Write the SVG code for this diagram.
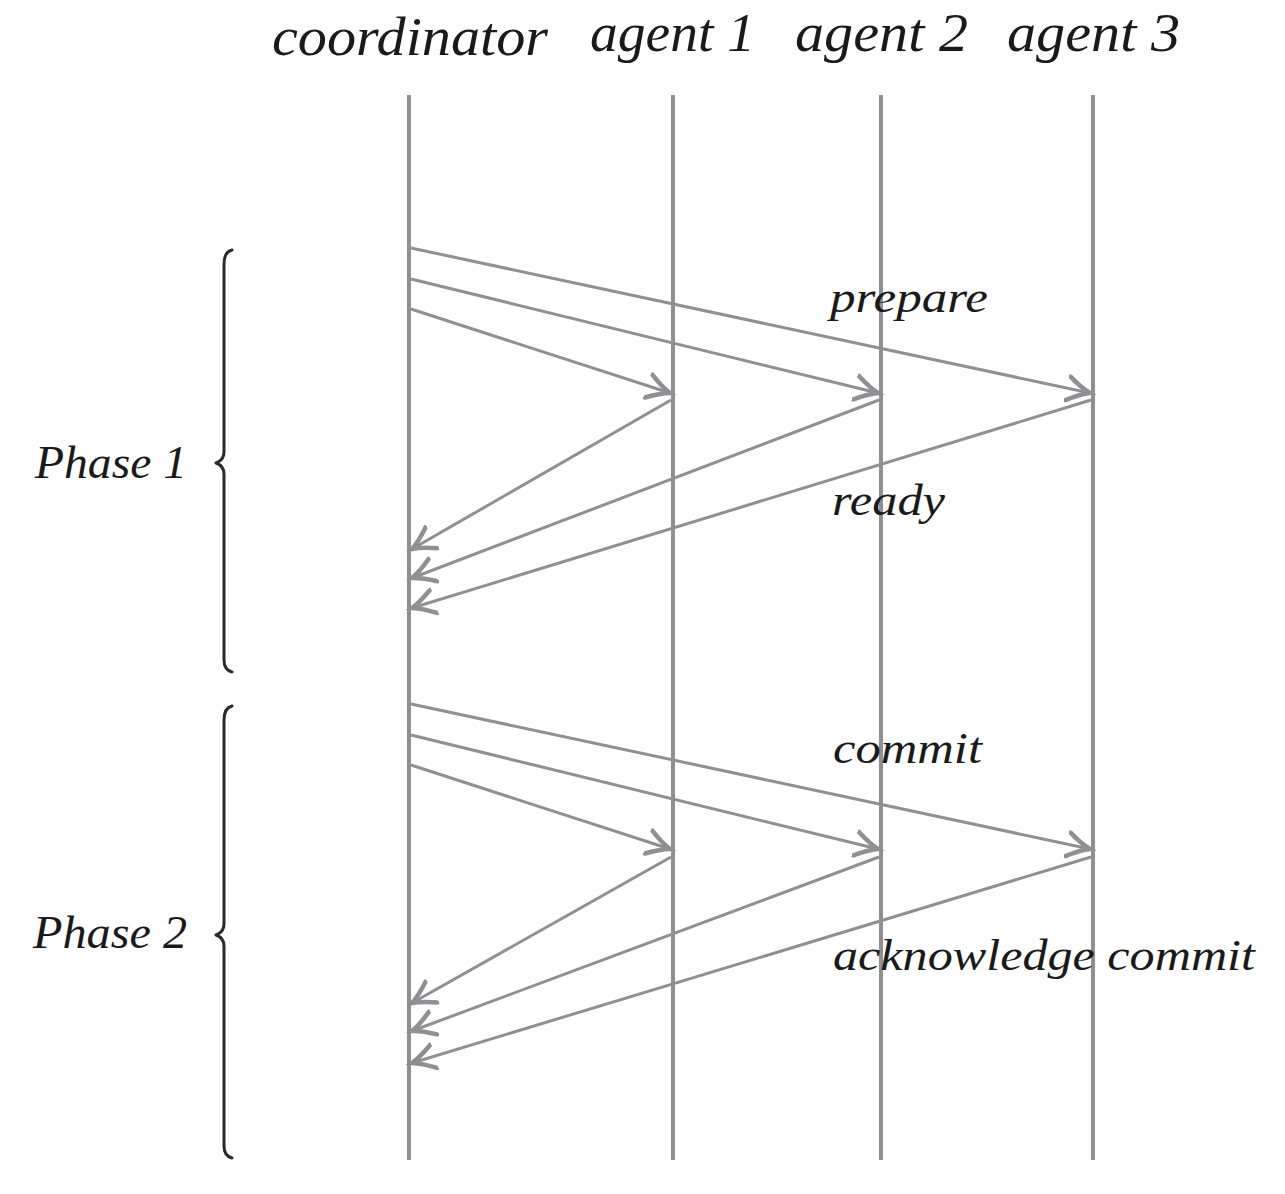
<svg xmlns="http://www.w3.org/2000/svg" width="1285" height="1194" viewBox="0 0 1285 1194">
<style>
.life{stroke:#909094;stroke-width:4;fill:none}
.msg{stroke:#909094;stroke-width:3;fill:none;marker-end:url(#arr)}
.brace{stroke:#2a2a2a;stroke-width:3;fill:none;stroke-linecap:round;stroke-linejoin:round}
text{font-family:"Liberation Serif",serif;font-style:italic;fill:#1a1a1a}
.hd{font-size:54px}
.ph{font-size:47px}
.lb{font-size:45px}
</style>
<defs>
<marker id="arr" markerUnits="userSpaceOnUse" markerWidth="30" markerHeight="30" viewBox="-16 -10 20 20" refX="0" refY="0" orient="auto">
<path d="M -15 -8 Q -6 -2 0 0 Q -6 2 -15 8" stroke="#909094" stroke-width="3" fill="none" stroke-linecap="round"/>
</marker>
</defs>
<rect width="1285" height="1194" fill="#ffffff"/>
<g id="coordinator"><line class="life" x1="409" y1="95" x2="409" y2="1160"/><text class="hd" x="272" y="55" textLength="276" lengthAdjust="spacingAndGlyphs">coordinator</text></g>
<g id="agent1"><line class="life" x1="673" y1="95" x2="673" y2="1160"/><text class="hd" x="590" y="51" textLength="165" lengthAdjust="spacingAndGlyphs">agent 1</text></g>
<g id="agent2"><line class="life" x1="881" y1="95" x2="881" y2="1160"/><text class="hd" x="795" y="51" textLength="173" lengthAdjust="spacingAndGlyphs">agent 2</text></g>
<g id="agent3"><line class="life" x1="1093" y1="95" x2="1093" y2="1160"/><text class="hd" x="1007" y="51" textLength="173" lengthAdjust="spacingAndGlyphs">agent 3</text></g>
<g id="phase1"><path class="brace" d="M 232 250 Q 224 252 224 264 L 224 452 Q 224 460 216 463 Q 224 466 224 474 L 224 660 Q 224 670 232 672"/><text class="ph" x="35" y="478" textLength="152" lengthAdjust="spacingAndGlyphs">Phase 1</text></g>
<g id="phase2"><path class="brace" d="M 232 706 Q 224 708 224 720 L 224 924 Q 224 932 216 935 Q 224 938 224 946 L 224 1146 Q 224 1156 232 1158"/><text class="ph" x="33" y="948" textLength="154" lengthAdjust="spacingAndGlyphs">Phase 2</text></g>
<g id="labels">
<text class="lb" x="830" y="312" textLength="158" lengthAdjust="spacingAndGlyphs">prepare</text>
<text class="lb" x="832" y="515" textLength="113" lengthAdjust="spacingAndGlyphs">ready</text>
<text class="lb" x="833" y="763" textLength="149" lengthAdjust="spacingAndGlyphs">commit</text>
<text class="lb" x="833" y="970" textLength="422" lengthAdjust="spacingAndGlyphs">acknowledge commit</text>
</g>
<g id="connectors">
<line class="msg" x1="411" y1="248" x2="1090" y2="393"/>
<line class="msg" x1="411" y1="279" x2="878" y2="393"/>
<line class="msg" x1="411" y1="309" x2="670" y2="393"/>
<line class="msg" x1="671" y1="400" x2="412" y2="549"/>
<line class="msg" x1="879" y1="400" x2="412" y2="578"/>
<line class="msg" x1="1091" y1="400" x2="412" y2="608"/>
<line class="msg" x1="411" y1="704" x2="1090" y2="849"/>
<line class="msg" x1="411" y1="735" x2="878" y2="849"/>
<line class="msg" x1="411" y1="765" x2="670" y2="849"/>
<line class="msg" x1="671" y1="857" x2="412" y2="1003"/>
<line class="msg" x1="879" y1="857" x2="412" y2="1031"/>
<line class="msg" x1="1091" y1="857" x2="412" y2="1063"/>
</g>
</svg>
